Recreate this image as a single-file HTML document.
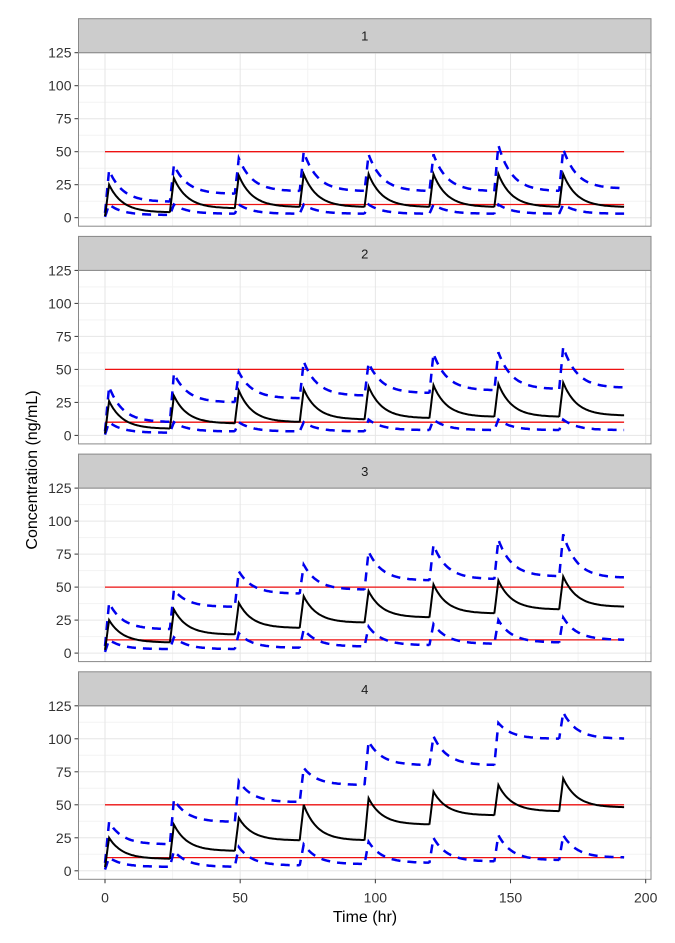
<!DOCTYPE html>
<html><head><meta charset="utf-8"><style>body{margin:0;background:#fff}svg{display:block;font-family:"Liberation Sans",sans-serif}</style></head>
<body>
<svg id="c" width="675" height="943"></svg>
<script>
const panels=["1","2","3","4"];
const doseTimes=[0,24,48,72,96,120,144,168];
const medPeak=[[25,30,32,33,33,33,33,33],[26,30,34,35,37,38,39,40],[25,33,38,43,47,52,55,58],[25,35,40,50,55,60,65,70]];
const medTrough=[[4,7,8,8,8,8,8,8],[5,9,10,12,13,14,14,15],[8,14,19,23,27,30,33,35],[9,15,23,23,35,42,45,48]];
const upPeak=[[36,40,45,50,48,48,55,52],[37,47,48,56,55,62,63,67],[38,48,62,67,77,82,86,90],[37,54,68,78,98,102,112,120]];
const upTrough=[[12,18,20,20,20,20,20,22],[10,25,28,30,32,34,35,36],[18,35,45,48,55,56,58,57],[20,37,52,65,80,80,100,100]];
const loPeak=[[10,10,10,10,10,10,10,10],[10,10,10,10,12,12,12,12],[10,12,15,18,20,22,25,27],[10,15,18,20,22,25,27,27]];
const loTrough=[[2,3,3,3,3,3,3,3],[2,3,3,3,4,4,4,4],[3,3,4,5,6,7,8,10],[3,3,4,5,6,7,8,10]];
const refLines=[50,10];
const xTicks=[0,50,100,150,200];
const yTicks=[0,25,50,75,100,125];

const NS="http://www.w3.org/2000/svg",svg=document.getElementById('c');
function mk(t,a,p){const e=document.createElementNS(NS,t);for(const k in a)e.setAttribute(k,a[k]);(p||svg).appendChild(e);return e;}
const L=78.5,R=651,X0=105,XS=(645.7-105)/200,YS=1.32,STEP=217.7;
const xs=t=>X0+t*XS;
function curve(pk,tr){const pts=[];let prev=tr[0]*0.3;
 doseTimes.forEach((d,i)=>{pts.push([d,prev]);for(let s=0;s<=24;s+=0.5){let v=s<1.5?prev+(pk[i]-prev)*s/1.5:tr[i]+(pk[i]-tr[i])*Math.exp(-(s-1.5)/5);pts.push([d+s,v]);}prev=tr[i];});return pts;}
panels.forEach((p,pi)=>{
 const top=52.7+pi*STEP,ys=v=>top+(125-v)*YS+0,bot=top+173.5;
 const g=mk('g',{});
 const st=mk('rect',{x:L,y:top-34,width:R-L,height:34,fill:'#cccccc',stroke:'#888',"stroke-width":1},g);
 
 const stt=mk('text',{x:(L+R)/2,y:top-12,"text-anchor":"middle","font-size":13,fill:'#1a1a1a'},g);stt.textContent=p;
 
 for(let v=12.5;v<125;v+=25)mk('line',{x1:L,x2:R,y1:ys(v),y2:ys(v),stroke:'#f3f3f3'},g);
 for(let t=25;t<200;t+=50)mk('line',{x1:xs(t),x2:xs(t),y1:top,y2:bot,stroke:'#f3f3f3'},g);
 yTicks.forEach(v=>{mk('line',{x1:L,x2:R,y1:ys(v),y2:ys(v),stroke:'#e6e6e6'},g);
  mk('line',{x1:L-4,x2:L,y1:ys(v),y2:ys(v),stroke:'#333'},g);
  const t=mk('text',{x:L-7,y:ys(v)+5,"text-anchor":"end","font-size":14,fill:'#333'},g);t.textContent=v;
  });
 xTicks.forEach(v=>mk('line',{x1:xs(v),x2:xs(v),y1:top,y2:bot,stroke:'#e6e6e6'},g));
 refLines.forEach(v=>{const l=mk('line',{x1:xs(0),x2:xs(192),y1:ys(v),y2:ys(v),stroke:'#ee1111',"stroke-width":1.3},g);
  });
 const path=(pts,att,name)=>{const e=mk('path',Object.assign({d:'M'+pts.map(q=>xs(q[0]).toFixed(1)+','+ys(q[1]).toFixed(1)).join('L'),fill:'none'},att),g);
  };
 path(curve(upPeak[pi],upTrough[pi]),{stroke:'#0000ee',"stroke-width":2.5,"stroke-dasharray":"9 7"},'upper-percentile-line');
 path(curve(loPeak[pi],loTrough[pi]),{stroke:'#0000ee',"stroke-width":2.5,"stroke-dasharray":"9 7"},'lower-percentile-line');
 path(curve(medPeak[pi],medTrough[pi]),{stroke:'#000',"stroke-width":2},'median-line');
 mk('rect',{x:L,y:top,width:R-L,height:bot-top,fill:'none',stroke:'#888',"stroke-width":1},g);
 if(pi==3){xTicks.forEach(v=>{mk('line',{x1:xs(v),x2:xs(v),y1:bot,y2:bot+4,stroke:'#333'},g);
  const t=mk('text',{x:xs(v),y:bot+23,"text-anchor":"middle","font-size":14,fill:'#333'},g);t.textContent=v;
  });}
});
const xt=mk('text',{x:365,y:922,"text-anchor":"middle","font-size":16,fill:'#000'});xt.textContent='Time (hr)';

const yt=mk('text',{x:0,y:0,"text-anchor":"middle","font-size":16,fill:'#000',transform:'translate(37,470) rotate(-90)'});yt.textContent='Concentration (ng/mL)';

</script>
</body></html>
